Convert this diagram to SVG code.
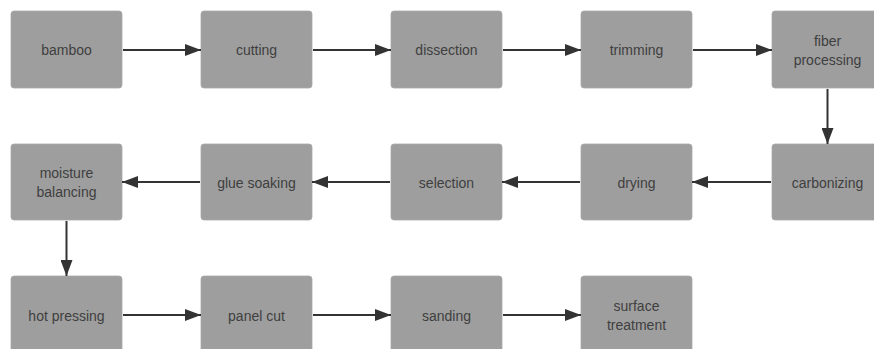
<svg xmlns="http://www.w3.org/2000/svg" width="874" height="349" viewBox="0 0 874 349">
  <style>
    .box { fill: #9e9e9e; stroke: #a8a8a8; stroke-width: 0.8; }
    .lbl { font-family: "Liberation Sans", Arial, sans-serif; font-size: 14px; fill: #3f3f3f; text-anchor: middle; dominant-baseline: central; }
    .edge { stroke: #333333; stroke-width: 2; fill: none; marker-end: url(#head); }
  </style>
  <defs>
    <marker id="head" viewBox="0 0 16 12" refX="16" refY="6" markerWidth="16" markerHeight="12" markerUnits="userSpaceOnUse" orient="auto">
      <path d="M0,0 L16,6 L0,12 z" fill="#333333"/>
    </marker>
  </defs>
  <rect width="874" height="349" fill="#ffffff"/>

  <!-- row 1 -->
  <g id="bamboo"><rect class="box" x="11" y="11" width="111" height="77" rx="3"/><text class="lbl" x="66.5" y="50">bamboo</text></g>
  <g id="cutting"><rect class="box" x="201" y="11" width="111" height="77" rx="3"/><text class="lbl" x="256.5" y="50">cutting</text></g>
  <g id="dissection"><rect class="box" x="391" y="11" width="111" height="77" rx="3"/><text class="lbl" x="446.5" y="50">dissection</text></g>
  <g id="trimming"><rect class="box" x="581" y="11" width="111" height="77" rx="3"/><text class="lbl" x="636.5" y="50">trimming</text></g>
  <g id="fiber-processing"><rect class="box" x="772" y="11" width="111" height="77" rx="3"/><text class="lbl" x="827.5" y="41">fiber</text><text class="lbl" x="827.5" y="60">processing</text></g>

  <!-- row 2 -->
  <g id="moisture-balancing"><rect class="box" x="11" y="144" width="111" height="76" rx="3"/><text class="lbl" x="66.5" y="173">moisture</text><text class="lbl" x="66.5" y="192">balancing</text></g>
  <g id="glue-soaking"><rect class="box" x="201" y="144" width="111" height="76" rx="3"/><text class="lbl" x="256.5" y="183">glue soaking</text></g>
  <g id="selection"><rect class="box" x="391" y="144" width="111" height="76" rx="3"/><text class="lbl" x="446.5" y="183">selection</text></g>
  <g id="drying"><rect class="box" x="581" y="144" width="111" height="76" rx="3"/><text class="lbl" x="636.5" y="183">drying</text></g>
  <g id="carbonizing"><rect class="box" x="772" y="144" width="111" height="76" rx="3"/><text class="lbl" x="827.5" y="183">carbonizing</text></g>

  <!-- row 3 -->
  <g id="hot-pressing"><rect class="box" x="11" y="276" width="111" height="77" rx="3"/><text class="lbl" x="66.5" y="316">hot pressing</text></g>
  <g id="panel-cut"><rect class="box" x="201" y="276" width="111" height="77" rx="3"/><text class="lbl" x="256.5" y="316">panel cut</text></g>
  <g id="sanding"><rect class="box" x="391" y="276" width="111" height="77" rx="3"/><text class="lbl" x="446.5" y="316">sanding</text></g>
  <g id="surface-treatment"><rect class="box" x="581" y="276" width="111" height="77" rx="3"/><text class="lbl" x="636.5" y="306">surface</text><text class="lbl" x="636.5" y="325">treatment</text></g>

  <!-- connectors -->
  <g id="connectors">
    <line class="edge" x1="123" y1="50" x2="201" y2="50"/>
    <line class="edge" x1="313" y1="50" x2="391" y2="50"/>
    <line class="edge" x1="503" y1="50" x2="581" y2="50"/>
    <line class="edge" x1="693" y1="50" x2="772" y2="50"/>
    <line class="edge" x1="827.5" y1="89" x2="827.5" y2="144"/>
    <line class="edge" x1="771" y1="182" x2="692" y2="182"/>
    <line class="edge" x1="580" y1="182" x2="502" y2="182"/>
    <line class="edge" x1="390" y1="182" x2="312" y2="182"/>
    <line class="edge" x1="200" y1="182" x2="122" y2="182"/>
    <line class="edge" x1="66.5" y1="221" x2="66.5" y2="276"/>
    <line class="edge" x1="123" y1="315" x2="201" y2="315"/>
    <line class="edge" x1="313" y1="315" x2="391" y2="315"/>
    <line class="edge" x1="503" y1="315" x2="581" y2="315"/>
  </g>
</svg>
